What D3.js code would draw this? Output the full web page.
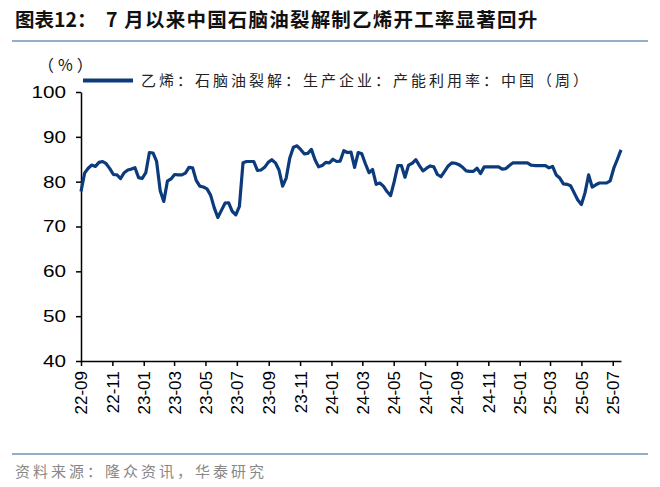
<!DOCTYPE html>
<html><head><meta charset="utf-8">
<script src="https://cdn.jsdelivr.net/npm/d3@7/dist/d3.min.js"></script>
<style>body{margin:0;background:#fff;}svg{display:block;}</style>
</head><body><svg id="c" width="660" height="487"></svg>
<script>
const startDate = "2022-09-01";
const values = [77.8,81.9,83,83.7,83.4,84.3,84.5,84,82.9,81.6,81.5,80.7,82,82.6,82.8,83.1,80.9,80.7,82,86.5,86.4,84.5,78,75.6,80.1,80.6,81.6,81.5,81.5,81.9,83.2,83.1,80.3,79,78.8,78.4,77,74.2,72,73.6,75.2,75.3,73.4,72.6,74.5,84.2,84.5,84.5,84.5,82.5,82.6,83.2,84.3,84.9,84.2,82.6,79,80.8,85.3,87.7,88,87.2,86.2,86.3,87.2,84.9,83.3,83.6,84.3,84.2,85,84.5,84.6,86.9,86.5,86.6,83.2,86.5,86.2,84,82,82.7,79.4,79.7,79,77.8,76.9,80,83.6,83.6,81,83.7,84.1,84.9,83.6,82.4,83,83.5,83.3,81.6,81.1,82.3,83.5,84.2,84.1,83.8,83.2,82.4,82.3,82.3,83,81.8,83.3,83.3,83.3,83.3,83.3,82.8,82.9,83.6,84.2,84.2,84.2,84.2,84.2,83.7,83.6,83.6,83.6,83.6,83.1,83.4,81.5,80.8,79.5,79.4,79.1,77.5,75.9,74.9,77.5,81.5,78.8,79.3,79.7,79.7,79.7,80.2,83,85,87.1];
const yTicks = [40,50,60,70,80,90,100];
const xTickLabels = ["22-09","22-11","23-01","23-03","23-05","23-07","23-09","23-11","24-01","24-03","24-05","24-07","24-09","24-11","25-01","25-03","25-05","25-07"];
const seriesName = "乙烯：石脑油裂解：生产企业：产能利用率：中国（周）";
const titlePrefix = "图表12：";
const titleText = "7 月以来中国石脑油裂解制乙烯开工率显著回升";
const sourceText = "资料来源：隆众资讯，华泰研究";
const unitText = "（%）";

const parse = d3.timeParse("%Y-%m-%d");
const t0 = parse(startDate);
const data = values.map((v,i)=>({date:d3.timeDay.offset(t0,i*7), v}));
const tickDates = xTickLabels.map(s=>d3.timeParse("%y-%m")(s));

const svg = d3.select("#c");
const x = d3.scaleTime().domain([t0, data[data.length-1].date]).range([81,621]);
const y = d3.scaleLinear().domain([40,100]).range([361,92]);
const cjk = "'Noto Sans CJK SC','Noto Sans',sans-serif";
const lat = "'Liberation Sans',Arial,sans-serif";
const blue = "#0c3b7c";

// title
const tt = svg.append("text").attr("y",27).attr("font-family",cjk).attr("font-weight","bold")
  .attr("font-size",19.5).attr("fill","#111");
tt.append("tspan").attr("x",15).text(titlePrefix);
tt.append("tspan").attr("x",106).attr("letter-spacing",1.2).text(titleText);
svg.append("line").attr("x1",12).attr("x2",648).attr("y1",41).attr("y2",41)
  .attr("stroke","#94adc9").attr("stroke-width",2);

// footer
svg.append("line").attr("x1",12).attr("x2",648).attr("y1",454).attr("y2",454)
  .attr("stroke","#94adc9").attr("stroke-width",2);
svg.append("text").attr("x",15).attr("y",477).attr("font-family",cjk).attr("font-size",15)
  .attr("letter-spacing",3).attr("fill","#888").text(sourceText);

// unit
svg.append("text").attr("x",38).attr("y",71).attr("font-family",cjk).attr("font-size",16)
  .attr("letter-spacing",4).attr("fill","#111").text(unitText);

// legend
svg.append("line").attr("x1",83).attr("x2",133).attr("y1",80.5).attr("y2",80.5)
  .attr("stroke",blue).attr("stroke-width",4);
svg.append("text").attr("x",141).attr("y",86).attr("font-family",cjk).attr("font-size",15)
  .attr("letter-spacing",3).attr("fill","#222").text(seriesName);

// y axis
const ya = svg.append("g").attr("transform","translate(81,0)")
  .call(d3.axisLeft(y).tickValues(yTicks).tickSize(5).tickSizeOuter(0).tickPadding(10));
ya.selectAll("text").attr("font-family",lat).attr("font-size",17).attr("fill","#000")
  .attr("transform",function(){ const t=d3.select(this); const xx=+t.attr("x"); return `translate(${xx},0) scale(1.22,1) translate(${-xx},0)`; });
ya.selectAll("line,path").attr("stroke","#000").attr("stroke-width",1.5);

// x axis
const xa = svg.append("g").attr("transform","translate(0,361)")
  .call(d3.axisBottom(x).tickValues(tickDates).tickFormat(d3.timeFormat("%y-%m")).tickSize(5).tickSizeOuter(0));
xa.selectAll("line,path").attr("stroke","#000").attr("stroke-width",1.5);
xa.selectAll("text").attr("font-family",lat).attr("font-size",17).attr("fill","#000")
  .attr("transform","rotate(-90)").attr("text-anchor","end").attr("dy","0.35em").attr("x",-10).attr("y",0);

// line
svg.append("path").datum(data).attr("fill","none").attr("stroke",blue).attr("stroke-width",3.2)
  .attr("stroke-linejoin","round")
  .attr("d",d3.line().x(d=>x(d.date)).y(d=>y(d.v)));
</script></body></html>
